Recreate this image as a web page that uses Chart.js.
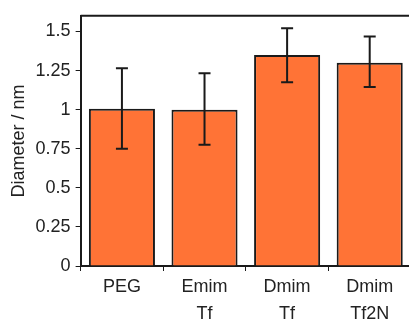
<!DOCTYPE html>
<html lang="en">
<head>
  <meta charset="UTF-8">
  <title>Diameter bar chart</title>
  <script src="https://cdn.jsdelivr.net/npm/chart.js"></script>
  <style>
    html, body { margin: 0; padding: 0; background: #fff; overflow: hidden; }
    #wrap { width: 411px; height: 331px; }
  </style>
</head>
<body>
  <div id="wrap"><canvas id="chart"></canvas></div>
  <script>
    // data
    const categories = [['PEG'], ['Emim', 'Tf'], ['Dmim', 'Tf'], ['Dmim', 'Tf2N']];
    const diameters = [1.005, 1.0, 1.35, 1.30];
    const errLow = [0.75, 0.775, 1.175, 1.145];
    const errHigh = [1.265, 1.232, 1.52, 1.468];
    const yTicks = [0, 0.25, 0.5, 0.75, 1, 1.25, 1.5];
    const yTickLabels = ['0', '0.25', '0.5', '0.75', '1', '1.25', '1.5'];

    const font = { family: '"Liberation Sans", Arial, sans-serif', size: 18 };

    // error bars + top frame line
    const extras = {
      id: 'extras',
      afterDatasetsDraw(chart) {
        const c = chart.ctx;
        const x = chart.scales.x, y = chart.scales.y;
        const area = chart.chartArea;
        c.save();
        c.strokeStyle = '#1a1a1a';
        c.lineWidth = 2;
        c.beginPath();
        c.moveTo(area.left, area.top);
        c.lineTo(area.right, area.top);
        c.stroke();
        categories.forEach((_, i) => {
          const cx = x.getPixelForValue(i);
          const yl = y.getPixelForValue(errLow[i]);
          const yh = y.getPixelForValue(errHigh[i]);
          c.beginPath();
          c.moveTo(cx, yl); c.lineTo(cx, yh);
          c.moveTo(cx - 6, yl); c.lineTo(cx + 6, yl);
          c.moveTo(cx - 6, yh); c.lineTo(cx + 6, yh);
          c.stroke();
        });
        c.restore();
      }
    };

    new Chart(document.getElementById('chart'), {
      type: 'bar',
      data: {
        labels: categories,
        datasets: [{
          data: diameters,
          backgroundColor: '#ff7336',
          borderColor: '#1a1a1a',
          borderWidth: 2,
          barPercentage: 0.8,
          categoryPercentage: 1
        }]
      },
      options: {
        responsive: true,
        maintainAspectRatio: false,
        animation: false,
        layout: { padding: { top: 13, left: 7, right: 0, bottom: 0 } },
        plugins: { legend: { display: false }, tooltip: { enabled: false } },
        scales: {
          x: {
            grid: { drawOnChartArea: false, drawTicks: true, tickLength: 5, color: '#1a1a1a' },
            border: { display: true, color: '#1a1a1a', width: 2 },
            ticks: { color: '#222', font: { ...font, lineHeight: 1.5 }, padding: 3 }
          },
          y: {
            min: 0,
            max: 1.6,
            afterBuildTicks(axis) { axis.ticks = yTicks.map(v => ({ value: v })); },
            grid: { drawOnChartArea: false, drawTicks: true, tickLength: 5, color: '#1a1a1a' },
            border: { display: true, color: '#1a1a1a', width: 2 },
            ticks: {
              color: '#222', font: font, padding: 5,
              callback: (v) => yTickLabels[yTicks.indexOf(v)]
            },
            title: { display: true, text: 'Diameter / nm', color: '#222', font: font, padding: 1 }
          }
        }
      },
      plugins: [extras]
    });
  </script>
</body>
</html>
